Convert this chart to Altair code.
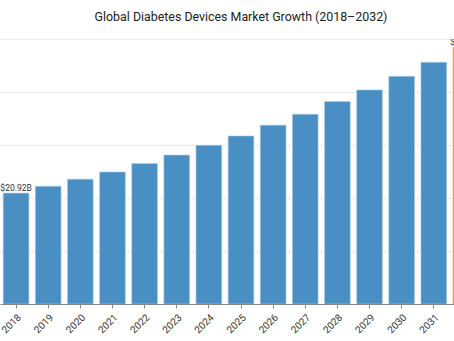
import altair as alt
import pandas as pd

years = ["2018", "2019", "2020", "2021", "2022", "2023", "2024", "2025",
         "2026", "2027", "2028", "2029", "2030", "2031", "2032"]
values = [20.92, 22.2, 23.55, 24.9, 26.5, 28.1, 29.95, 31.7,
          33.75, 35.8, 38.2, 40.4, 42.95, 45.6, 48.4]
labels = ["$20.92B", "", "", "", "", "", "", "", "", "", "", "", "", "", "$48.40B"]
highlight = ["base"] * 14 + ["end"]

df = pd.DataFrame({"year": years, "value": values, "label": labels, "kind": highlight})

base = alt.Chart(df).encode(
    x=alt.X("year:N", title=None,
            scale=alt.Scale(paddingInner=0.2, paddingOuter=0.1, range=[0, 482]),
            axis=alt.Axis(labelAngle=315, labelFontSize=10, labelColor="#333",
                          labelFont="Roboto", domainColor="#888", tickColor="#888",
                          tickSize=4, labelPadding=4, grid=False,
                          values=years[:-1])),
)

bars = base.mark_bar(strokeWidth=1, strokeOpacity=0.6, clip=True).encode(
    y=alt.Y("value:Q", title=None,
            scale=alt.Scale(domain=[0, 50]),
            axis=alt.Axis(labels=False, ticks=False, domain=False,
                          values=[10, 20, 30, 40, 50], grid=True,
                          gridDash=[2, 2], gridColor="#d9d9d9")),
    color=alt.Color("kind:N", legend=None,
                    scale=alt.Scale(domain=["base", "end"], range=["#4a8fc3", "#f0a050"])),
    stroke=alt.Stroke("kind:N", legend=None,
                      scale=alt.Scale(domain=["base", "end"], range=["#a9cbe6", "#f28e2b"])),
)

text = base.mark_text(dy=-5, fontSize=8.5, color="#333", font="Roboto", clip=True).encode(
    y="value:Q",
    text="label:N",
)

chart = (bars + text).properties(
    width=454, height=265,
    title=alt.Title("Global Diabetes Devices Market Growth (2018–2032)",
                    fontSize=12.4, fontWeight="normal", font="Roboto",
                    color="#222", anchor="middle", offset=16, dx=14),
    padding={"left": 0, "top": 39, "right": 0, "bottom": 37},
    autosize=alt.AutoSizeParams(type="none"),
).configure_view(stroke=None)

chart.save("out.html", embed_options={"renderer": "svg", "actions": False})
